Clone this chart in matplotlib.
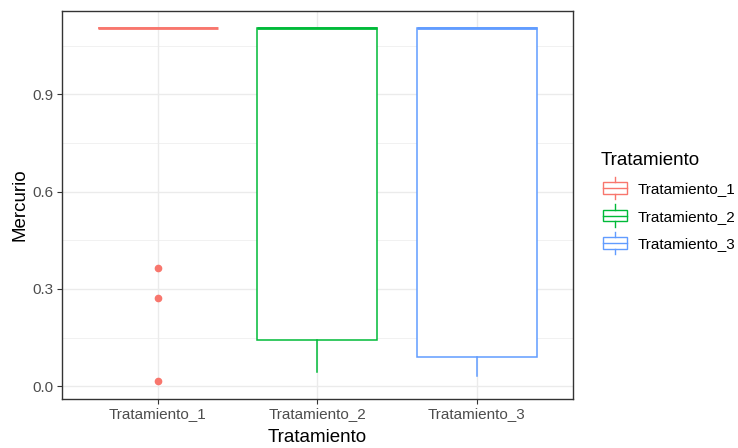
import numpy as np
import matplotlib.pyplot as plt
from matplotlib.legend_handler import HandlerBase
from matplotlib.patches import Rectangle
from matplotlib.lines import Line2D

plt.rcParams['font.family'] = ['Liberation Sans', 'DejaVu Sans']

# box statistics
groups = ['Tratamiento_1', 'Tratamiento_2', 'Tratamiento_3']
colors = ['#F8766D', '#00BA38', '#619CFF']
q1 = [1.104, 0.142, 0.089]
med = [1.104, 1.104, 1.104]
q3 = [1.104, 1.104, 1.104]
whislo = [1.104, 0.043, 0.031]
whishi = [1.104, 1.104, 1.104]
fliers = [[0.364, 0.271, 0.015], [], []]

stats = []
for i, g in enumerate(groups):
    stats.append(dict(label=g, q1=q1[i], med=med[i], q3=q3[i],
                      whislo=whislo[i], whishi=whishi[i],
                      fliers=np.array(fliers[i])))

fig = plt.figure(figsize=(7.38, 4.48), dpi=100)
ax = fig.add_axes([0.084, 0.109, 0.692, 0.866])

for i, s in enumerate(stats):
    c = colors[i]
    ax.bxp([s], positions=[i + 1], widths=0.75, showcaps=False,
           patch_artist=True,
           boxprops=dict(facecolor='white', edgecolor=c, linewidth=1.1),
           medianprops=dict(color=c, linewidth=2.0),
           whiskerprops=dict(color=c, linewidth=1.1),
           flierprops=dict(marker='o', markerfacecolor=c, markeredgecolor=c,
                           markersize=4.5, linestyle='none'))

ax.set_xlim(0.4, 3.6)
ax.set_ylim(-0.040, 1.156)
ax.set_yticks([0.0, 0.3, 0.6, 0.9])
ax.set_yticklabels(['0.0', '0.3', '0.6', '0.9'])
ax.set_yticks([0.15, 0.45, 0.75, 1.05], minor=True)
ax.set_xticks([1, 2, 3])
ax.set_xticklabels(groups)
ax.grid(True, which='major', color='#EBEBEB', linewidth=1.0)
ax.grid(True, which='minor', axis='y', color='#EBEBEB', linewidth=0.5)
ax.set_axisbelow(True)
ax.tick_params(axis='both', which='major', colors='#333333', labelcolor='#4D4D4D',
               labelsize=11, length=3.5, width=0.8, pad=2.5)
ax.tick_params(axis='y', which='minor', length=0)
for sp in ax.spines.values():
    sp.set_color('#333333')
    sp.set_linewidth(1.0)
ax.set_xlabel('Tratamiento', fontsize=13.5, labelpad=5.5)
ax.set_ylabel('Mercurio', fontsize=13.5, labelpad=3)


class BoxHandler(HandlerBase):
    def create_artists(self, legend, orig_handle, xdescent, ydescent,
                       width, height, fontsize, trans):
        c = orig_handle.get_color()
        bx0, bw = 0.1 * width, 0.8 * width
        by0, bh = 0.1 * height, 0.8 * height
        r = Rectangle((bx0 - xdescent, by0 - ydescent), bw, bh,
                      facecolor='white', edgecolor=c, lw=1.0, transform=trans)
        mid = 0.5 * height - ydescent
        m = Line2D([bx0 - xdescent, bx0 + bw - xdescent], [mid, mid],
                   color=c, lw=1.0, transform=trans)
        cx = 0.5 * width - xdescent
        w1 = Line2D([cx, cx], [by0 + bh - ydescent, 1.3 * height - ydescent],
                    color=c, lw=1.0, transform=trans)
        w2 = Line2D([cx, cx], [by0 - ydescent, -0.3 * height - ydescent],
                    color=c, lw=1.0, transform=trans)
        return [r, m, w1, w2]


handles = [Line2D([], [], color=c) for c in colors]
leg = fig.legend(handles, groups, loc='upper left', bbox_to_anchor=(0.795, 0.692),
                 frameon=False, title='Tratamiento', fontsize=11,
                 title_fontsize=13.5, handler_map={Line2D: BoxHandler()},
                 handlelength=1.95, handleheight=1.05, labelspacing=0.8,
                 handletextpad=0.5)
leg._legend_box.align = 'left'

fig.savefig('out.png', dpi=100)
